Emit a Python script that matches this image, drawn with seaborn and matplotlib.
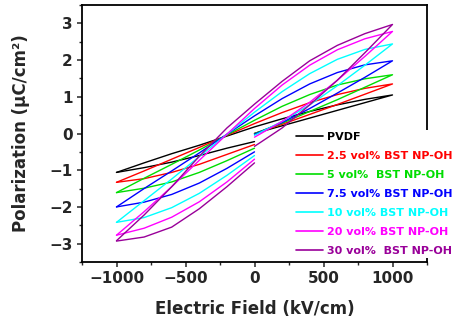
import matplotlib
matplotlib.use("Agg")
import matplotlib.pyplot as plt
import seaborn as sns
import pandas as pd
from matplotlib.lines import Line2D

# ---- data ----
labels = ["PVDF", "2.5 vol% BST NP-OH", "5 vol%  BST NP-OH", "7.5 vol% BST NP-OH",
          "10 vol% BST NP-OH", "20 vol% BST NP-OH", "30 vol%  BST NP-OH"]
colors = ["#000000", "#FF0000", "#00DD00", "#0000FF", "#00FFFF", "#FF00FF", "#990099"]

# electric field grids (kV/cm)
E_up = [1000, 800, 600, 400, 200, 0, -200, -400, -600, -800, -1000]   # descending branch
E_ll = [-1000, -800, -600, -400, -200, 0]                             # ascending, left half
E_lr = [0, 200, 400, 600, 800, 1000]                                  # ascending, right half

# polarization (uC/cm2) on each branch
P_up = [
    [1.05, 0.93, 0.78, 0.60, 0.40, 0.18, -0.07, -0.32, -0.55, -0.80, -1.06],
    [1.35, 1.23, 1.06, 0.84, 0.57, 0.27, -0.05, -0.38, -0.70, -1.02, -1.33],
    [1.60, 1.49, 1.32, 1.06, 0.74, 0.36, -0.04, -0.45, -0.84, -1.22, -1.61],
    [1.98, 1.87, 1.66, 1.35, 0.95, 0.48, -0.02, -0.53, -1.02, -1.50, -2.00],
    [2.44, 2.29, 2.02, 1.63, 1.14, 0.58, -0.02, -0.63, -1.24, -1.83, -2.42],
    [2.78, 2.58, 2.28, 1.86, 1.32, 0.68, -0.02, -0.73, -1.45, -2.13, -2.77],
    [2.97, 2.72, 2.40, 1.98, 1.42, 0.80, 0.15, -0.62, -1.45, -2.22, -2.92],
]
P_ll = [
    [-1.06, -0.93, -0.78, -0.60, -0.40, -0.22],
    [-1.33, -1.23, -1.06, -0.84, -0.57, -0.30],
    [-1.61, -1.49, -1.32, -1.06, -0.74, -0.40],
    [-2.00, -1.87, -1.66, -1.35, -0.95, -0.50],
    [-2.42, -2.29, -2.02, -1.63, -1.14, -0.60],
    [-2.77, -2.58, -2.28, -1.86, -1.32, -0.70],
    [-2.93, -2.82, -2.55, -2.05, -1.45, -0.80],
]
P_lr = [
    [0.00, 0.21, 0.42, 0.63, 0.84, 1.05],
    [0.00, 0.25, 0.52, 0.79, 1.07, 1.35],
    [0.00, 0.28, 0.60, 0.92, 1.26, 1.60],
    [-0.02, 0.30, 0.68, 1.10, 1.53, 1.98],
    [-0.05, 0.33, 0.78, 1.30, 1.86, 2.44],
    [-0.10, 0.33, 0.85, 1.45, 2.10, 2.78],
    [-0.35, 0.15, 0.78, 1.45, 2.20, 2.97],
]

xticks = [-1000, -500, 0, 500, 1000]
yticks = [-3, -2, -1, 0, 1, 2, 3]

# ---- build long table ----
rows = []
for i, lab in enumerate(labels):
    order = 0
    for E, P in zip(E_lr, P_lr[i]):
        rows.append((lab, "a", order, E, P)); order += 1
    for E, P in zip(E_up, P_up[i]):
        rows.append((lab, "a", order, E, P)); order += 1
    for E, P in zip(E_ll, P_ll[i]):
        rows.append((lab, "b", order, E, P)); order += 1
df = pd.DataFrame(rows, columns=["series", "seg", "order", "E", "P"])

sns.set_style("ticks")
plt.rcParams["font.family"] = ["DejaVu Sans"]
plt.rcParams["font.weight"] = "bold"

fig = plt.figure(figsize=(4.55, 3.23), dpi=100)
ax = fig.add_axes([82/455, 1-262/323, (427-82)/455, (262-5)/323])

for i, lab in enumerate(labels):
    sub = df[df["series"] == lab]
    sns.lineplot(data=sub, x="E", y="P", units="seg", estimator=None, sort=False,
                 color=colors[i], lw=1.0, ax=ax, legend=False)

ax.set_xlim(-1250, 1250)
ax.set_ylim(-3.5, 3.5)
ax.set_xticks(xticks)
ax.set_yticks(yticks)
ax.set_xticks([-1250, -750, -250, 250, 750, 1250], minor=True)
ax.set_yticks([-3.5, -2.5, -1.5, -0.5, 0.5, 1.5, 2.5, 3.5], minor=True)
ax.tick_params(axis="both", which="major", direction="out", length=3.5, width=1.1,
               labelsize=11, top=False, right=False, pad=3)
ax.tick_params(axis="both", which="minor", direction="out", length=2, width=1.0,
               top=False, right=False)
for lbl in ax.get_xticklabels() + ax.get_yticklabels():
    lbl.set_fontweight("bold")
for s in ax.spines.values():
    s.set_linewidth(1.3)
    s.set_color("black")

ax.set_xlabel("Electric Field (kV/cm)", fontsize=12, fontweight="bold", labelpad=10)
ax.set_ylabel("Polarization (μC/cm²)", fontsize=12, fontweight="bold", labelpad=14)

handles = [Line2D([0], [0], color=c, lw=1.2) for c in colors]
leg = ax.legend(handles, labels, loc="upper left", bbox_to_anchor=(294/455, 1-130/323),
                bbox_transform=fig.transFigure, prop={"size": 8, "weight": "bold"},
                frameon=True, framealpha=1, facecolor="white", edgecolor="none",
                handlelength=2.4, handletextpad=0.4, labelspacing=0.8,
                borderpad=0.2, borderaxespad=0)
for t, c in zip(leg.get_texts(), colors):
    t.set_color(c)

fig.savefig("out.png", dpi=100)
